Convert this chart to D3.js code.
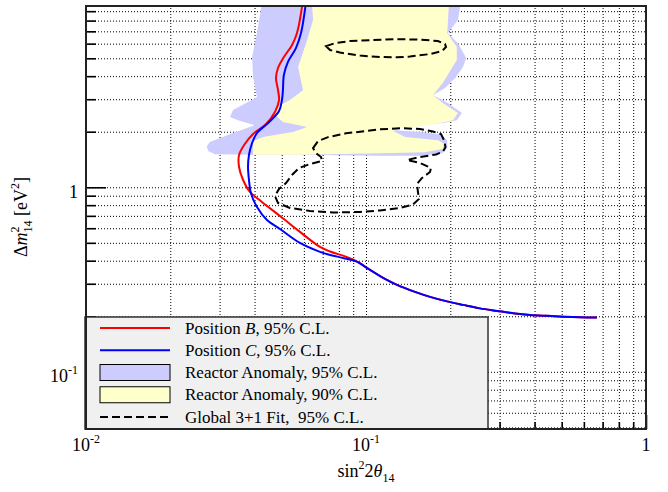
<!DOCTYPE html>
<html>
<head>
<meta charset="utf-8">
<script src="https://cdn.jsdelivr.net/npm/d3@7"></script>
<style>
  html, body { margin: 0; padding: 0; background: #fff; }
  svg { display: block; }
  text { font-family: "Liberation Serif", "Times New Roman", serif; fill: #000; }
</style>
</head>
<body>
<svg id="chart" width="668" height="492"></svg>
<script>
// Sensitivity contours in the (sin^2 2θ14, Δm^2_14) plane

// Position B exclusion, 95% C.L.
const posB_sin2 = [0.0594, 0.0567, 0.0544, 0.0509, 0.0485, 0.0477, 0.0485, 0.0489, 0.0473, 0.0439, 0.0395, 0.0367, 0.0352, 0.0352, 0.0364, 0.0385, 0.0425, 0.0493, 0.0581, 0.0685, 0.0744, 0.0841, 0.0921,
  0.1034, 0.1169, 0.1290, 0.1496, 0.1693, 0.1947, 0.2221, 0.2553, 0.2938, 0.3404, 0.3852, 0.4430, 0.5053, 0.5810, 0.6683];
const posB_dm2 = [10, 6.85, 5.89, 5.08, 4.43, 3.91, 3.36, 2.97, 2.56, 2.20, 1.944, 1.694, 1.496, 1.288, 1.095, 0.943, 0.833, 0.699, 0.573, 0.475, 0.449, 0.422, 0.399,
  0.3566, 0.3188, 0.2958, 0.2711, 0.2547, 0.2408, 0.2305, 0.2207, 0.2139, 0.2073, 0.2035, 0.2010, 0.1990, 0.1975, 0.1968];

// Position C exclusion, 95% C.L.
const posC_sin2 = [0.0610, 0.0586, 0.0562, 0.0526, 0.0509, 0.0505, 0.0501, 0.0489, 0.0447, 0.0408, 0.0392, 0.0382, 0.0379, 0.0382, 0.0388, 0.0408, 0.0443, 0.0493, 0.0581, 0.0685, 0.0744, 0.0841, 0.0921,
  0.1034, 0.1169, 0.1290, 0.1496, 0.1693, 0.1947, 0.2221, 0.2553, 0.2938, 0.3404, 0.3852, 0.4430, 0.5053, 0.5810, 0.6683];
const posC_dm2 = [10, 6.85, 5.68, 4.77, 4.06, 3.36, 2.97, 2.59, 2.23, 1.968, 1.737, 1.496, 1.288, 1.095, 0.931, 0.782, 0.665, 0.594, 0.499, 0.4464, 0.430, 0.4115, 0.3966,
  0.3566, 0.3188, 0.2958, 0.2711, 0.2547, 0.2408, 0.2305, 0.2207, 0.2139, 0.2073, 0.2035, 0.2010, 0.1990, 0.1975, 0.1968];

// Reactor anomaly allowed region, 95% C.L.
const ra95_sin2 = [0.0425, 0.218, 0.213, 0.196, 0.213, 0.228, 0.222, 0.208, 0.1915, 0.1735, 0.196, 0.220, 0.211, 0.188, 0.156, 0.132, 0.127, 0.156, 0.184, 0.195, 0.195, 0.187, 0.156, 0.112, 0.0581, 0.0401, 0.0289, 0.0273, 0.0270, 0.0277, 0.0335, 0.0401, 0.0349, 0.0327, 0.0335, 0.0408, 0.0395, 0.0392, 0.0408];
const ra95_dm2 = [10, 10, 8.05, 6.85, 6.04, 5.01, 4.48, 3.91, 3.45, 3.16, 2.86, 2.53, 2.31, 2.23, 2.17, 2.12, 2.04, 1.99, 1.94, 1.80, 1.63, 1.53, 1.48, 1.48, 1.50, 1.50, 1.51, 1.57, 1.67, 1.76, 1.97, 2.17, 2.31, 2.40, 2.62, 3.08, 3.96, 5.08, 6.85];

// Reactor anomaly allowed region, 90% C.L.
const ra90_sin2 = [0.0641, 0.198, 0.195, 0.211, 0.211, 0.188, 0.1735, 0.188, 0.213, 0.2045, 0.169, 0.132, 0.125, 0.138, 0.181, 0.190, 0.188, 0.162, 0.112, 0.0581, 0.0395, 0.0395, 0.0429, 0.0549, 0.0616, 0.0505, 0.0466, 0.0481, 0.0535, 0.0596, 0.0572, 0.0616, 0.0647];
const ra90_dm2 = [10, 10, 6.85, 5.75, 4.89, 3.67, 3.16, 2.86, 2.53, 2.31, 2.17, 2.09, 2.02, 1.87, 1.80, 1.72, 1.61, 1.55, 1.53, 1.50, 1.50, 1.78, 1.87, 1.99, 2.12, 2.26, 2.53, 2.72, 2.97, 3.36, 4.48, 6.27, 8.05];

// Global 3+1 fit, 95% C.L. (two closed islands)
const fitHigh_sin2 = [0.0720, 0.0775, 0.0877, 0.1034, 0.1290, 0.1559, 0.1807, 0.1915, 0.1931, 0.1868, 0.1693, 0.1436, 0.1290, 0.1122, 0.0952, 0.0807, 0.0744];
const fitHigh_dm2 = [5.82, 6.04, 6.20, 6.27, 6.35, 6.31, 6.20, 5.97, 5.75, 5.47, 5.27, 5.11, 5.06, 5.08, 5.17, 5.37, 5.54];
const fitLow_sin2 = [0.0647, 0.0674, 0.0732, 0.0848, 0.1122, 0.1323, 0.1559, 0.1735, 0.1853, 0.1900, 0.1923, 0.1884, 0.1778, 0.1559, 0.1401, 0.1559, 0.1706, 0.1693, 0.1585, 0.1521, 0.1533, 0.1546, 0.1472, 0.1323, 0.1122, 0.0952, 0.0762, 0.0631, 0.0535, 0.0485, 0.0473, 0.0489, 0.0518, 0.0544, 0.0576, 0.0631, 0.0696, 0.0691, 0.0663];
const fitLow_dm2 = [1.63, 1.78, 1.87, 1.96, 2.06, 2.09, 2.07, 2.005, 1.94, 1.80, 1.65, 1.563, 1.505, 1.459, 1.405, 1.354, 1.272, 1.210, 1.123, 1.042, 0.943, 0.864, 0.807, 0.773, 0.749, 0.735, 0.730, 0.744, 0.773, 0.822, 0.897, 0.979, 1.055, 1.166, 1.272, 1.337, 1.388, 1.459, 1.53];

// Axis ticks and labels
const xMajor = [0.01, 0.1, 1];
const xMajorLabels = [["10", "-2"], ["10", "-1"], ["1", ""]];
const xMinor = [0.02, 0.03, 0.04, 0.05, 0.06, 0.07, 0.08, 0.09, 0.2, 0.3, 0.4, 0.5, 0.6, 0.7, 0.8, 0.9];
const yMajor = [0.1, 1];
const yMajorLabels = [["10", "-1"], ["1", ""]];
const yMinor = [0.05, 0.06, 0.07, 0.08, 0.09, 0.2, 0.3, 0.4, 0.5, 0.6, 0.7, 0.8, 0.9, 2, 3, 4, 5, 6, 7, 8, 9];

const legendItems = [
  { kind: "line", color: "#ff0000", parts: [["Position ", false], ["B", true], [", 95% C.L.", false]] },
  { kind: "line", color: "#0000ff", parts: [["Position ", false], ["C", true], [", 95% C.L.", false]] },
  { kind: "box", color: "#ccccff", parts: [["Reactor Anomaly, 95% C.L.", false]] },
  { kind: "box", color: "#ffffcc", parts: [["Reactor Anomaly, 90% C.L.", false]] },
  { kind: "dash", color: "#000", parts: [["Global 3+1 Fit,  95% C.L.", false]] }
];

const svg = d3.select("#chart");
const L = 86, R = 646, T = 6, B = 429;

const x = d3.scaleLog().domain([0.01, 1]).range([L, R]);
const y = d3.scaleLog().domain([0.049, 9.6]).range([B, T]);

const zip = (xs, ys) => xs.map((v, i) => [v, ys[i]]);

svg.append("defs").append("clipPath").attr("id", "plotClip")
  .append("rect").attr("x", L).attr("y", T).attr("width", R - L).attr("height", B - T);

// Dotted grid on every decade and sub-decade value
const gridX = d3.axisBottom(x).tickValues(xMajor.concat(xMinor)).tickSize(-(B - T)).tickFormat("");
const gridY = d3.axisLeft(y).tickValues(yMajor.concat(yMinor)).tickSize(-(R - L)).tickFormat("");
[[gridX, `translate(0,${B})`], [gridY, `translate(${L},0)`]].forEach(([ax, tr]) => {
  const g = svg.append("g").attr("transform", tr).call(ax);
  g.select(".domain").remove();
  g.selectAll("line").attr("stroke", "#000").attr("stroke-width", 1).attr("stroke-dasharray", "1,2");
});

const plot = svg.append("g").attr("clip-path", "url(#plotClip)");

const areaLine = d3.line().x(d => x(d[0])).y(d => y(d[1])).curve(d3.curveLinearClosed);
plot.append("path").attr("d", areaLine(zip(ra95_sin2, ra95_dm2))).attr("fill", "#ccccff").attr("stroke", "none");
plot.append("path").attr("d", areaLine(zip(ra90_sin2, ra90_dm2))).attr("fill", "#ffffcc").attr("stroke", "none");

[[fitHigh_sin2, fitHigh_dm2], [fitLow_sin2, fitLow_dm2]].forEach(([a, b]) => {
  plot.append("path").attr("d", areaLine(zip(a, b)))
    .attr("fill", "none").attr("stroke", "#000").attr("stroke-width", 2).attr("stroke-dasharray", "8,4");
});

const curve = d3.line().x(d => x(d[0])).y(d => y(d[1])).curve(d3.curveCatmullRom.alpha(0.5));
plot.append("path").attr("d", curve(zip(posB_sin2, posB_dm2)))
  .attr("fill", "none").attr("stroke", "#ff0000").attr("stroke-width", 2);
plot.append("path").attr("d", curve(zip(posC_sin2, posC_dm2)))
  .attr("fill", "none").attr("stroke", "#0000ff").attr("stroke-width", 2);

// Tick marks pointing into the frame
function ticks(axis, tr) {
  const g = svg.append("g").attr("transform", tr).call(axis);
  g.select(".domain").remove();
  g.selectAll("line").attr("stroke", "#000").attr("stroke-width", 1.6);
}
ticks(d3.axisLeft(y).tickValues(yMinor).tickSize(-10).tickFormat(""), `translate(${L},0)`);
ticks(d3.axisLeft(y).tickValues(yMajor).tickSize(-20).tickFormat(""), `translate(${L},0)`);
ticks(d3.axisBottom(x).tickValues(xMinor).tickSize(-7).tickFormat(""), `translate(0,${B})`);
ticks(d3.axisBottom(x).tickValues(xMajor).tickSize(-14).tickFormat(""), `translate(0,${B})`);

// Legend
const lg = svg.append("g");
lg.append("rect").attr("x", 85).attr("y", 317).attr("width", 403).attr("height", 112)
  .attr("fill", "#f0f0f0").attr("stroke", "#333").attr("stroke-width", 1.5);
const rowY = d3.scalePoint().domain(d3.range(legendItems.length)).range([328, 417]);
legendItems.forEach((it, i) => {
  const cy = rowY(i);
  if (it.kind === "line") {
    lg.append("line").attr("x1", 100).attr("x2", 170).attr("y1", cy).attr("y2", cy)
      .attr("stroke", it.color).attr("stroke-width", 2);
  } else if (it.kind === "box") {
    lg.append("rect").attr("x", 100).attr("y", cy - 8).attr("width", 70).attr("height", 16)
      .attr("fill", it.color).attr("stroke", "#000").attr("stroke-width", 1);
  } else {
    lg.append("line").attr("x1", 100).attr("x2", 170).attr("y1", cy).attr("y2", cy)
      .attr("stroke", it.color).attr("stroke-width", 2).attr("stroke-dasharray", "8,4");
  }
  const t = lg.append("text").attr("x", 185).attr("y", cy + 5.5).attr("font-size", 17)
    .style("white-space", "pre").attr("xml:space", "preserve");
  it.parts.forEach(([s, ital]) => {
    t.append("tspan").text(s).attr("font-style", ital ? "italic" : "normal");
  });
});

// Frame
svg.append("rect").attr("x", L).attr("y", T).attr("width", R - L).attr("height", B - T)
  .attr("fill", "none").attr("stroke", "#222").attr("stroke-width", 2);

// Power-of-ten tick labels
function powLabel(px, py, base, exp, anchor) {
  const t = svg.append("text").attr("x", px).attr("y", py).attr("font-size", 18).attr("text-anchor", anchor);
  t.append("tspan").text(base);
  if (exp) t.append("tspan").text(exp).attr("font-size", 12).attr("dy", -8);
}
xMajor.forEach((v, i) => powLabel(x(v), 451, xMajorLabels[i][0], xMajorLabels[i][1], "middle"));
yMajor.forEach((v, i) => powLabel(78, y(v) + 10.5, yMajorLabels[i][0], yMajorLabels[i][1], "end"));

// Axis titles
const xt = svg.append("text").attr("x", 366).attr("y", 477).attr("font-size", 18).attr("text-anchor", "middle");
xt.append("tspan").text("sin");
xt.append("tspan").text("2").attr("font-size", 12).attr("dy", -8);
xt.append("tspan").text("2").attr("dy", 8);
xt.append("tspan").text("θ").attr("font-style", "italic");
xt.append("tspan").text("14").attr("font-size", 12).attr("dy", 5);

const yt = svg.append("text").attr("transform", "translate(27,217) rotate(-90)")
  .attr("font-size", 18).attr("text-anchor", "middle");
yt.append("tspan").text("Δ");
yt.append("tspan").text("m").attr("font-style", "italic");
yt.append("tspan").text("2").attr("font-size", 12).attr("dy", -8);
yt.append("tspan").text("14").attr("font-size", 12).attr("dx", -6).attr("dy", 13);
yt.append("tspan").text(" [eV").attr("dy", -5);
yt.append("tspan").text("2").attr("font-size", 12).attr("dy", -8);
yt.append("tspan").text("]").attr("dy", 8);
</script>
</body>
</html>
